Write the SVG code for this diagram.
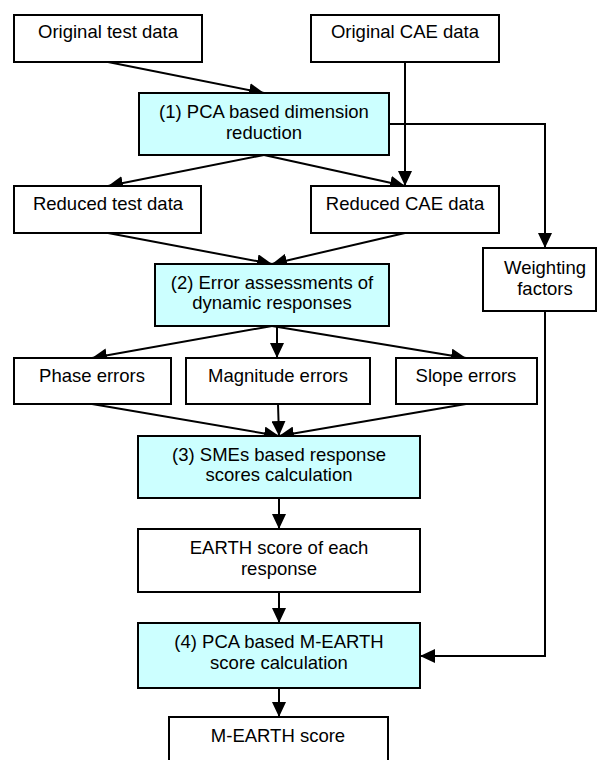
<svg xmlns="http://www.w3.org/2000/svg" width="597" height="760" viewBox="0 0 597 760">
<style>
.b{fill:#fff;stroke:#000;stroke-width:2}
.p{fill:#ccffff;stroke:#000;stroke-width:2}
.t{font-family:"Liberation Sans",Arial,sans-serif;font-size:18.5px;fill:#000;text-anchor:middle}
.c{fill:none;stroke:#000;stroke-width:2;marker-end:url(#ah)}
</style>
<defs>
<marker id="ah" markerUnits="userSpaceOnUse" markerWidth="15" markerHeight="14" refX="15" refY="7" orient="auto" viewBox="0 0 15 14">
<path d="M0,0 L15,7 L0,14 z" fill="#000"/>
</marker>
</defs>
<rect width="597" height="760" fill="#fff"/>
<g id="connectors">
<line class="c" x1="108" y1="62" x2="264" y2="93"/>
<line class="c" x1="405" y1="62" x2="405" y2="186"/>
<line class="c" x1="264" y1="155" x2="108" y2="186"/>
<line class="c" x1="264" y1="155" x2="405" y2="186"/>
<polyline class="c" points="389,124 545,124 545,248"/>
<line class="c" x1="108" y1="233" x2="272" y2="264"/>
<line class="c" x1="405" y1="233" x2="272" y2="264"/>
<line class="c" x1="272" y1="326" x2="92" y2="358"/>
<line class="c" x1="277" y1="326" x2="277" y2="358"/>
<line class="c" x1="272" y1="326" x2="466" y2="358"/>
<line class="c" x1="92" y1="404" x2="279" y2="436"/>
<line class="c" x1="278" y1="404" x2="279" y2="436"/>
<line class="c" x1="466" y1="404" x2="279" y2="436"/>
<line class="c" x1="279" y1="498" x2="279" y2="529"/>
<line class="c" x1="279" y1="592" x2="279" y2="623"/>
<line class="c" x1="279" y1="688" x2="279" y2="717"/>
<polyline class="c" points="545,311 545,656 420,656"/>
</g>
<g id="orig_test"><rect class="b" x="14" y="15" width="188" height="47"/><text class="t" x="108" y="38">Original test data</text></g>
<g id="orig_cae"><rect class="b" x="311" y="15" width="188" height="47"/><text class="t" x="405" y="38">Original CAE data</text></g>
<g id="step1"><rect class="p" x="139" y="93" width="250" height="62"/><text class="t" x="264" y="118">(1) PCA based dimension</text><text class="t" x="264" y="139">reduction</text></g>
<g id="red_test"><rect class="b" x="14" y="186" width="187" height="47"/><text class="t" x="108" y="210">Reduced test data</text></g>
<g id="red_cae"><rect class="b" x="311" y="186" width="188" height="47"/><text class="t" x="405" y="210">Reduced CAE data</text></g>
<g id="weights"><rect class="b" x="483" y="248" width="113" height="63"/><text class="t" x="545" y="274">Weighting</text><text class="t" x="545" y="295">factors</text></g>
<g id="step2"><rect class="p" x="155" y="264" width="234" height="62"/><text class="t" x="272" y="289">(2) Error assessments of</text><text class="t" x="272" y="309">dynamic responses</text></g>
<g id="phase"><rect class="b" x="14" y="358" width="157" height="46"/><text class="t" x="92" y="382">Phase errors</text></g>
<g id="magnitude"><rect class="b" x="186" y="358" width="184" height="46"/><text class="t" x="278" y="382">Magnitude errors</text></g>
<g id="slope"><rect class="b" x="396" y="358" width="141" height="46"/><text class="t" x="466" y="382">Slope errors</text></g>
<g id="step3"><rect class="p" x="138" y="436" width="282" height="62"/><text class="t" x="279" y="461">(3) SMEs based response</text><text class="t" x="279" y="481">scores calculation</text></g>
<g id="earth"><rect class="b" x="138" y="529" width="282" height="63"/><text class="t" x="279" y="554">EARTH score of each</text><text class="t" x="279" y="575">response</text></g>
<g id="step4"><rect class="p" x="138" y="623" width="282" height="65"/><text class="t" x="279" y="648">(4) PCA based M-EARTH</text><text class="t" x="279" y="669">score calculation</text></g>
<g id="mearth"><rect class="b" x="169" y="717" width="219" height="62"/><text class="t" x="278" y="742">M-EARTH score</text></g>
</svg>
